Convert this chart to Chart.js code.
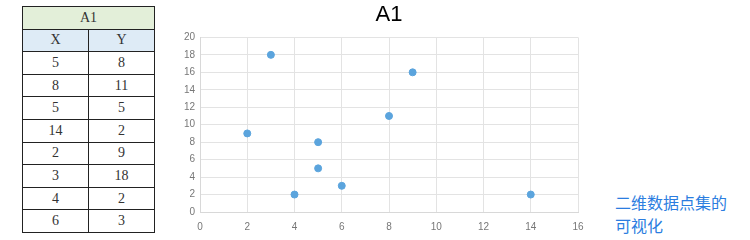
<!DOCTYPE html>
<html><head><meta charset="utf-8">
<script src="https://cdn.jsdelivr.net/npm/chart.js@4/dist/chart.umd.min.js"></script>
<style>
html,body{margin:0;padding:0;background:#fff;width:750px;height:240px;overflow:hidden;}
#tbl{position:absolute;left:22px;top:6px;border-collapse:collapse;font-family:"Liberation Serif",serif;font-size:14px;color:#333;}
#tbl td{border:1px solid #222;width:65px;height:21.6px;padding:0;text-align:center;}
#tbl tr.t td{background:#e3efd9;}
#tbl tr.h td{background:#deebf6;}
#wrap{position:absolute;left:160px;top:0;width:440px;height:240px;}
#note{position:absolute;left:615px;top:191px;width:114px;font-family:"Noto Sans CJK SC",sans-serif;font-size:16px;line-height:23px;color:#2b7de0;}
</style></head><body>
<table id="tbl"></table>
<div id="wrap"><canvas id="c"></canvas></div>
<div id="note">二维数据点集的可视化</div>
<script>
const title = "A1";
const colHeaders = ["X","Y"];
const xValues = [5, 8, 5, 14, 2, 3, 4, 6, 9];
const yValues = [8, 11, 5, 2, 9, 18, 2, 3, 16];
const tableRowCount = 8;

const tbl = document.getElementById('tbl');
let html = '<tr class="t"><td colspan="2">' + title + '</td></tr>';
html += '<tr class="h"><td>' + colHeaders[0] + '</td><td>' + colHeaders[1] + '</td></tr>';
for (let i = 0; i < tableRowCount; i++) html += '<tr><td>' + xValues[i] + '</td><td>' + yValues[i] + '</td></tr>';
tbl.innerHTML = html;

const pts = xValues.map((x, i) => ({x: x, y: yValues[i]}));
new Chart(document.getElementById('c'), {
  type: 'scatter',
  data: {datasets: [{data: pts, backgroundColor: '#5ba4dd', borderColor: '#5ba4dd', pointRadius: 3.5, pointHoverRadius: 3.5}]},
  options: {
    responsive: true, maintainAspectRatio: false, animation: false,
    layout: {padding: {left: 0, right: 22, top: 0, bottom: 0}},
    plugins: {
      legend: {display: false}, tooltip: {enabled: false},
      title: {display: true, fullSize: false, text: title, color: '#000', font: {family: 'Liberation Sans, Arial, sans-serif', size: 22, weight: 'normal'}, padding: {top: 2, bottom: 9}}
    },
    scales: {
      x: {type: 'linear', min: 0, max: 16, ticks: {stepSize: 2, color: '#777', font: {family: 'Liberation Sans, Arial, sans-serif', size: 10}, padding: 9},
          grid: {color: '#e3e3e3', drawTicks: false}, border: {color: '#d8d8d8'},
          afterFit: s => { s.height = 28; }},
      y: {min: 0, max: 20, ticks: {stepSize: 2, color: '#777', font: {family: 'Liberation Sans, Arial, sans-serif', size: 10}, padding: 5},
          grid: {color: '#e3e3e3', drawTicks: false}, border: {color: '#d8d8d8'},
          afterFit: s => { s.width = 40; }}
    }
  }
});
</script>
</body></html>
